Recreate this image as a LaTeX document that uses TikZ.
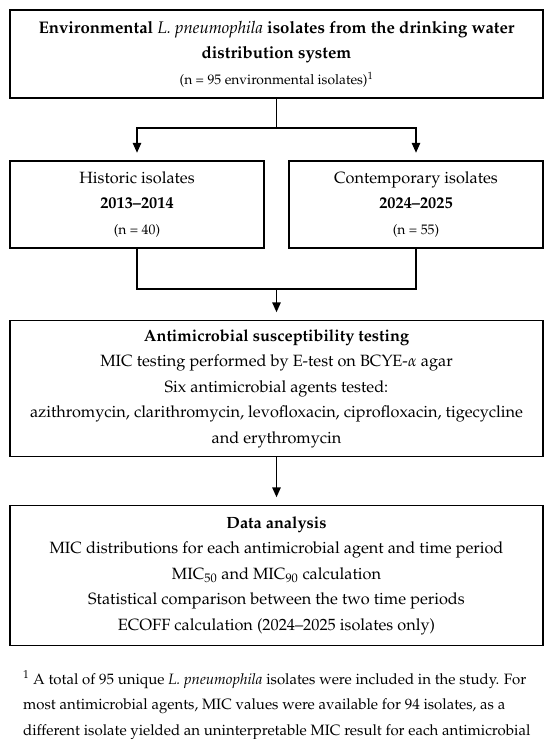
\documentclass[tikz,border=0pt]{standalone}
\usepackage[T1]{fontenc}
\usepackage{mathpazo}
\usetikzlibrary{arrows.meta,positioning}
\tikzset{
  box/.style={draw=black, line width=1.5pt, rectangle, inner sep=0pt, align=center,
    font=\fontsize{16.3}{25.5}\selectfont},
  conn/.style={draw=black, line width=1.5pt},
  arr/.style={conn, -{Triangle[length=10pt,width=8.5pt]}, shorten >=7.5pt},
  foot/.style={anchor=base west, inner sep=0pt, font=\fontsize{15}{25.5}\selectfont},
}
\newcommand{\smalln}{\fontsize{13.8}{25.5}\selectfont}
\newcommand{\titlefont}{\fontsize{16.8}{26}\selectfont}
\begin{document}
\begin{tikzpicture}[x=1pt,y=-1pt]
\useasboundingbox (0,0) rectangle (550,739);
\fill[white] (0,0) rectangle (550,739);

\node[box, minimum width=533pt, minimum height=88pt] (top) at (276.5,54)
  {{\titlefont\textbf{Environmental {\mdseries\itshape L.~pneumophila} isolates from the drinking water}}\\
   {\titlefont\textbf{distribution system}}\\
   {\smalln (n = 95 environmental isolates)\textsuperscript{1}}};

\node[box, minimum width=254pt, minimum height=87pt] (hist) at (137,204.5)
  {Historic isolates\\ \textbf{2013--2014}\\ {\smalln (n = 40)}};
\node[box, minimum width=254pt, minimum height=87pt] (cont) at (416,204.5)
  {Contemporary isolates\\ \textbf{2024--2025}\\ {\smalln (n = 55)}};

\node[box, minimum width=533pt, minimum height=136pt] (ast) at (276.5,388.5)
  {\textbf{Antimicrobial susceptibility testing}\\
   MIC testing performed by E-test on BCYE-$\alpha$ agar\\
   Six antimicrobial agents tested:\\
   azithromycin, clarithromycin, levofloxacin, ciprofloxacin, tigecycline\\
   and erythromycin};

\node[box, minimum width=533pt, minimum height=140pt] (data) at (276.5,575.5)
  {\textbf{Data analysis}\\
   MIC distributions for each antimicrobial agent and time period\\
   MIC\textsubscript{50} and MIC\textsubscript{90} calculation\\
   Statistical comparison between the two time periods\\
   ECOFF calculation (2024--2025 isolates only)};

\coordinate (barT) at (276.5,128);
\coordinate (barB) at (276.5,289);
\draw[conn] (top.south) -- (barT);
\draw[arr] (barT) -| (hist.north);
\draw[arr] (barT) -| (cont.north);
\draw[conn] (hist.south) |- (barB);
\draw[conn] (cont.south) |- (barB);
\draw[arr] (barB) -- (ast.north);
\draw[arr] (ast.south) -- (data.north);

\node[foot] (f1) at (23,684) {\textsuperscript{1} A total of 95 unique \textit{L.~pneumophila} isolates were included in the study. For};
\node[foot] (f2) at (23,709.5) {most antimicrobial agents, MIC values were available for 94 isolates, as a};
\node[foot] (f3) at (23,735) {different isolate yielded an uninterpretable MIC result for each antimicrobial};
\end{tikzpicture}
\end{document}
